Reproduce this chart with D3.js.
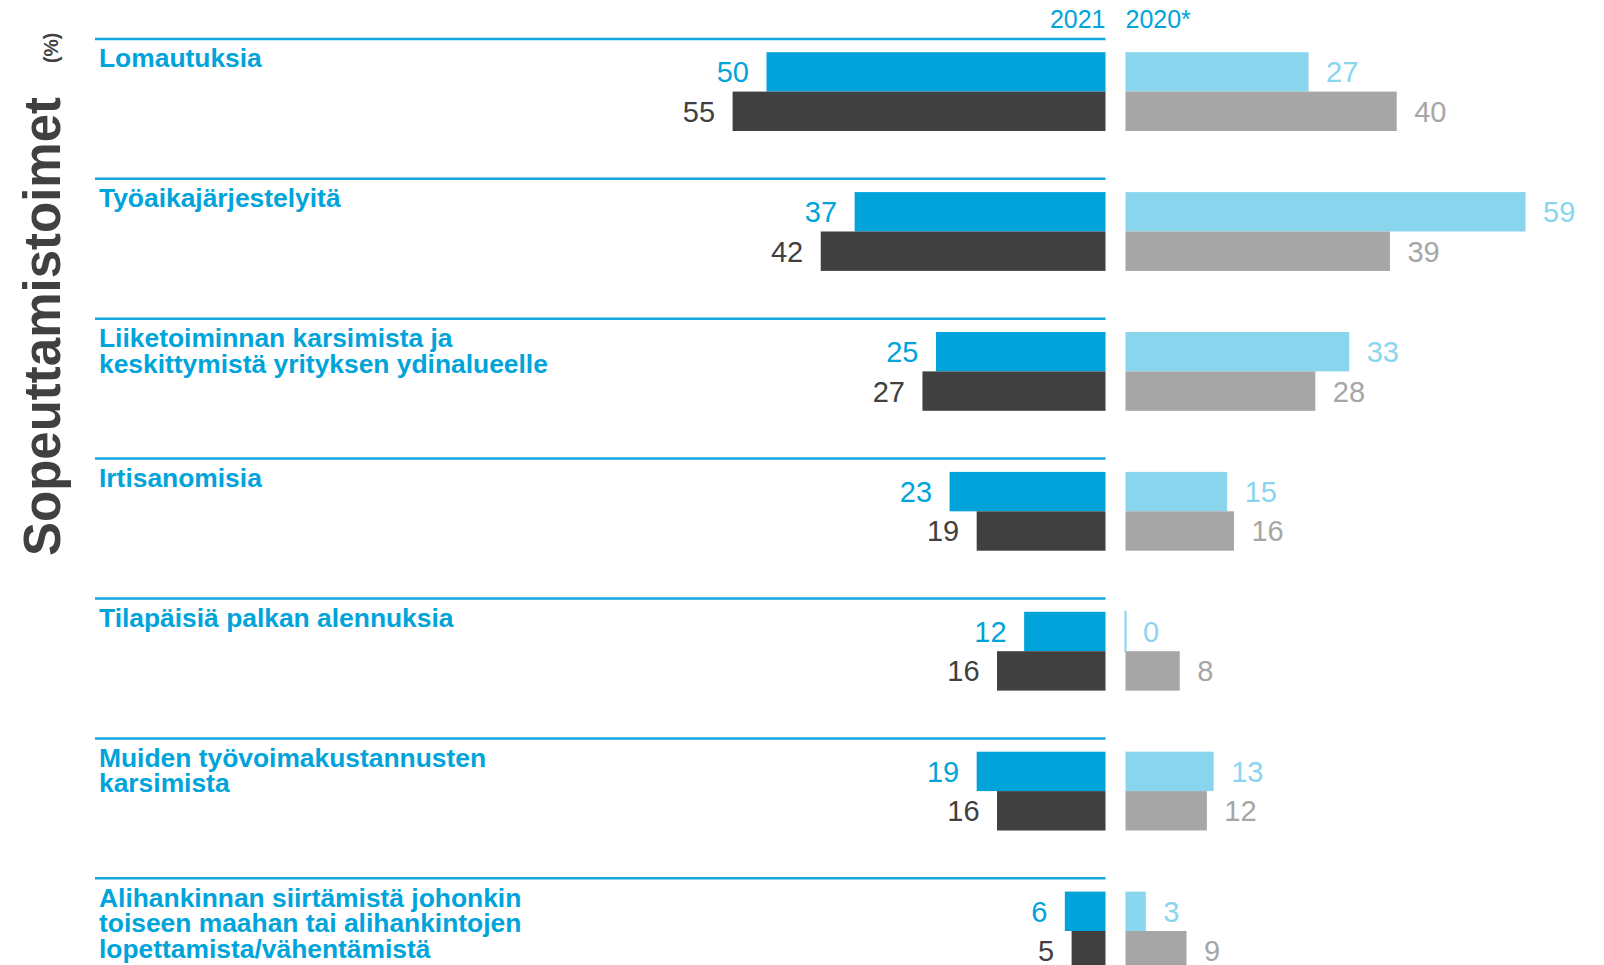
<!DOCTYPE html>
<html>
<head>
<meta charset="utf-8">
<script src="https://cdn.jsdelivr.net/npm/d3@7"></script>
<style>
  body { margin: 0; background: #fff; }
  svg { display: block; font-family: "Liberation Sans", Arial, sans-serif; }
</style>
</head>
<body>
<div class="chart"></div>
<script>
const width = 1604,
    height = 965;

// categories (label lines)
const categories = [
    ["Lomautuksia"],
    ["Työaikajärjestelyitä"],
    ["Liiketoiminnan karsimista ja", "keskittymistä yrityksen ydinalueelle"],
    ["Irtisanomisia"],
    ["Tilapäisiä palkan alennuksia"],
    ["Muiden työvoimakustannusten", "karsimista"],
    ["Alihankinnan siirtämistä johonkin", "toiseen maahan tai alihankintojen", "lopettamista/vähentämistä"]
];
const years = ["2021", "2020*"];

// values, %
const blue2021 = [50, 37, 25, 23, 12, 19, 6];
const dark2021 = [55, 42, 27, 19, 16, 16, 5];
const blue2020 = [27, 59, 33, 15, 0, 13, 3];
const grey2020 = [40, 39, 28, 16, 8, 12, 9];

const titleText = "Sopeuttamistoimet";
const unitText = "(%)";

const colBlue = "#00a4db",
    colDark = "#404040",
    colLight = "#8ad5ee",
    colGrey = "#a6a6a6";

const svg = d3.select(".chart")
    .append("svg")
    .attr("width", width)
    .attr("height", height)

const keys = categories.map(d => d.join(" "));

const y = d3.scaleBand()
    .domain(keys)
    .range([38.9, 38.9 + 139.9 * keys.length])
    .paddingInner(0)
    .paddingOuter(0)

const xLeft = d3.scaleLinear().domain([0, 60]).range([1105.5, 698.7]);
const xRight = d3.scaleLinear().domain([0, 60]).range([1125.5, 1532.3]);

const barH = 39.4,
    barOff = 13.3;

// title
svg.append("text")
    .text(titleText)
    .attr("transform", `translate(60, 556) rotate(-90)`)
    .attr("font-size", 51)
    .attr("font-weight", "bold")
    .attr("fill", colDark)

svg.append("text")
    .text(unitText)
    .attr("transform", `translate(58, 63) rotate(-90)`)
    .attr("font-size", 19.5)
    .attr("font-weight", "bold")
    .attr("fill", colDark)

// year headers
svg.append("text")
    .text(years[0])
    .attr("x", xLeft(0))
    .attr("y", 28)
    .attr("text-anchor", "end")
    .attr("font-size", 25)
    .attr("fill", colBlue)

svg.append("text")
    .text(years[1])
    .attr("x", xRight(0))
    .attr("y", 28)
    .attr("font-size", 25)
    .attr("fill", colBlue)

const rows = categories.map((c, i) => ({
    key: keys[i],
    lines: c,
    b21: blue2021[i],
    d21: dark2021[i],
    b20: blue2020[i],
    g20: grey2020[i]
}));

const g = svg.selectAll("g.row")
    .data(rows)
    .join("g")
    .attr("class", "row")
    .attr("transform", d => `translate(0, ${y(d.key)})`)

g.append("line")
    .attr("x1", 95)
    .attr("x2", xLeft(0))
    .attr("y1", 0)
    .attr("y2", 0)
    .attr("stroke", "#12a6de")
    .attr("stroke-width", 2.5)

g.append("text")
    .attr("fill", colBlue)
    .attr("font-weight", "bold")
    .attr("font-size", 26.4)
    .selectAll("tspan")
    .data(d => d.lines)
    .join("tspan")
    .attr("x", 99)
    .attr("y", (d, i) => 28.5 + i * 25.6)
    .text(d => d)

const bars = [
    { field: "b21", side: "left", row: 0, color: colBlue },
    { field: "d21", side: "left", row: 1, color: colDark },
    { field: "b20", side: "right", row: 0, color: colLight },
    { field: "g20", side: "right", row: 1, color: colGrey }
];

bars.forEach(b => {
    const sx = b.side == "left" ? xLeft : xRight;
    const top = barOff + b.row * barH;
    g.append("rect")
        .attr("x", d => b.side == "left" ? sx(d[b.field]) : sx(0))
        .attr("width", d => Math.max(Math.abs(sx(d[b.field]) - sx(0)), 0.01))
        .attr("y", top)
        .attr("height", barH)
        .attr("fill", b.color)
        .attr("stroke", d => d[b.field] == 0 ? b.color : "none")
        .attr("stroke-width", 2)

    g.append("text")
        .text(d => d[b.field])
        .attr("x", d => b.side == "left" ? sx(d[b.field]) - 17.5 : sx(d[b.field]) + 17.5)
        .attr("y", top + barH / 2 + 10.5)
        .attr("text-anchor", b.side == "left" ? "end" : "start")
        .attr("font-size", 29)
        .attr("fill", b.color)
});
</script>
</body>
</html>
